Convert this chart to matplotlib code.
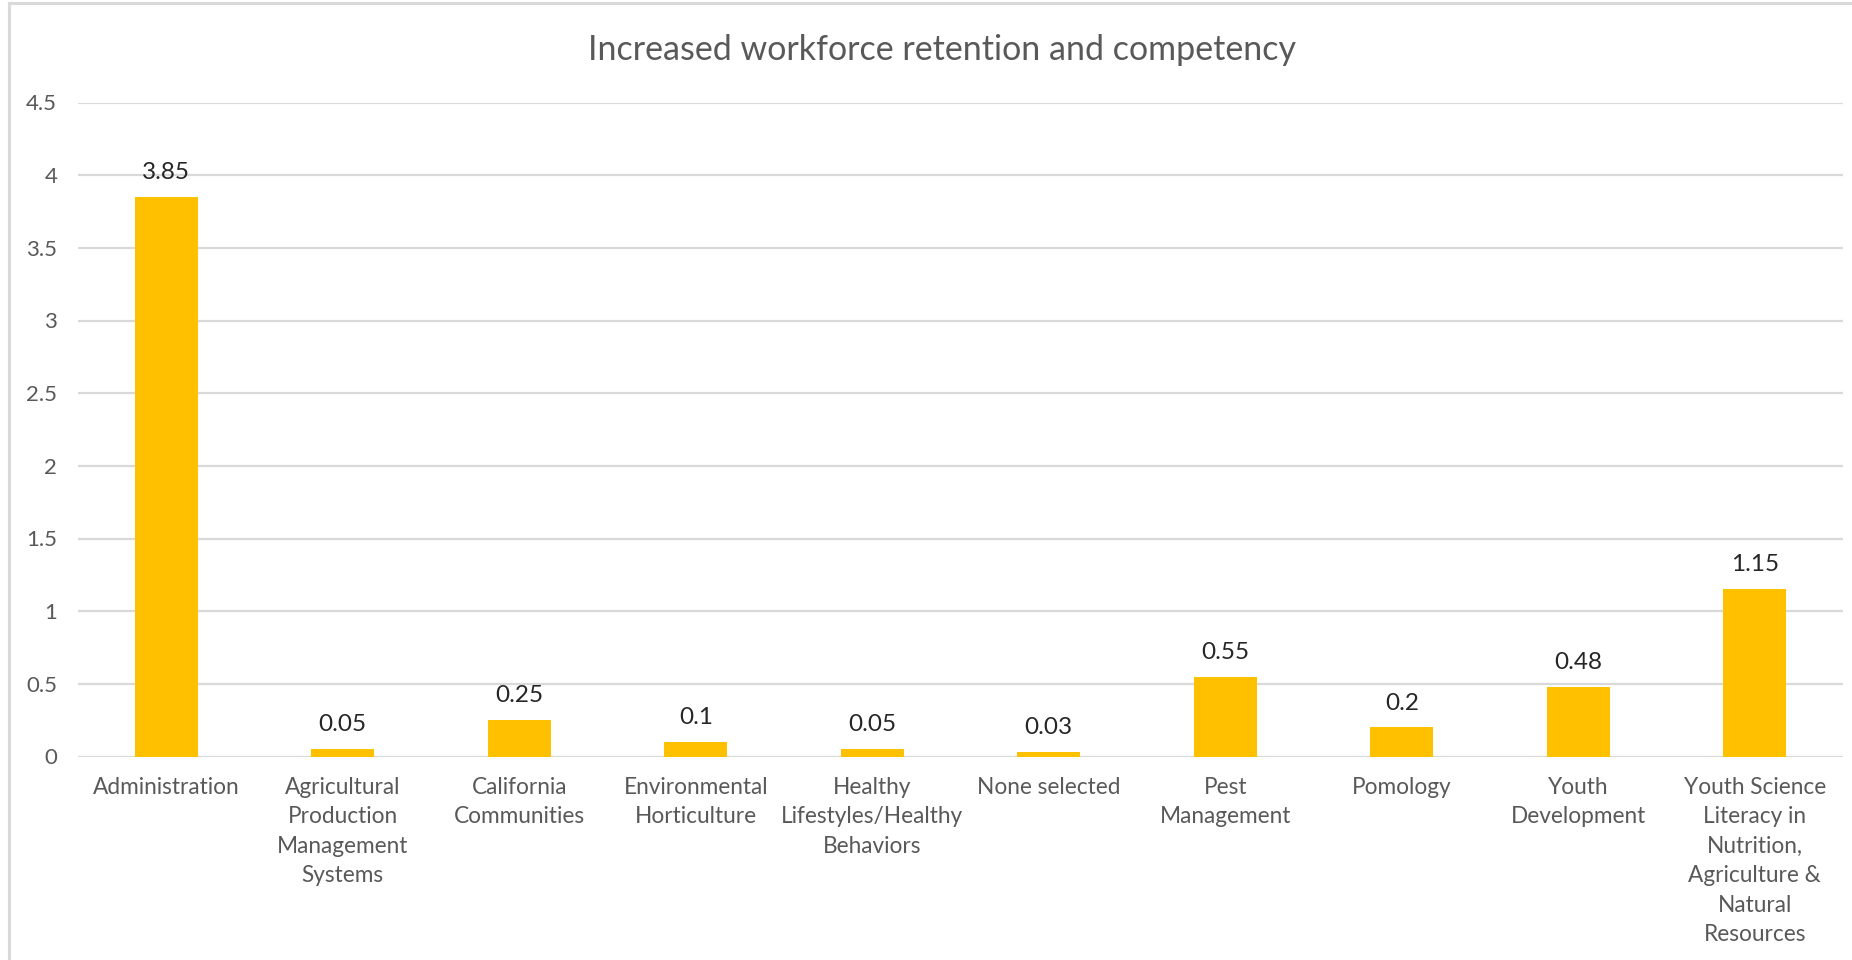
import matplotlib
matplotlib.use("Agg")
import matplotlib.pyplot as plt
from matplotlib.lines import Line2D
import numpy as np

plt.rcParams['font.family'] = ['Lato', 'DejaVu Sans']

categories = ["Administration",
              "Agricultural\nProduction\nManagement\nSystems",
              "California\nCommunities",
              "Environmental\nHorticulture",
              "Healthy\nLifestyles/Healthy\nBehaviors",
              "None selected",
              "Pest\nManagement",
              "Pomology",
              "Youth\nDevelopment",
              "Youth Science\nLiteracy in\nNutrition,\nAgriculture &\nNatural\nResources"]
values = [3.85, 0.05, 0.25, 0.1, 0.05, 0.03, 0.55, 0.2, 0.48, 1.15]
value_labels = ["3.85", "0.05", "0.25", "0.1", "0.05", "0.03", "0.55", "0.2", "0.48", "1.15"]
yticks = [0, 0.5, 1, 1.5, 2, 2.5, 3, 3.5, 4, 4.5]
ytick_labels = ["0", "0.5", "1", "1.5", "2", "2.5", "3", "3.5", "4", "4.5"]

fig = plt.figure(figsize=(18.52, 9.6), dpi=100)
ax = fig.add_axes([78/1852, 1 - 756.5/960, (1843-78)/1852, (756.5-102.5)/960])

x = np.arange(len(categories))
bars = ax.bar(x, values, width=0.355, color="#FFC000", zorder=3)

for b, lab in zip(bars, value_labels):
    ax.annotate(lab, (b.get_x() + b.get_width()/2, b.get_height()),
                xytext=(0, 10), textcoords="offset points",
                ha="center", va="bottom", fontsize=17.5, color="#262626")

ax.set_xlim(-0.5, len(categories) - 0.5)
ax.set_ylim(0, 4.5)
ax.set_yticks(yticks)
ax.set_yticklabels(ytick_labels)
ax.set_xticks(x)
ax.set_xticklabels(categories, linespacing=1.5)
ax.tick_params(axis="y", length=0, pad=15, labelsize=16, labelcolor="#595959")
ax.tick_params(axis="x", length=0, pad=14.5, labelsize=16.3, labelcolor="#595959")
ax.grid(axis="y", color="#d9d9d9", linewidth=1.6, zorder=0)
for s in ax.spines.values():
    s.set_visible(False)

fig.text(942/1852, 1 - 50/960, "Increased workforce retention and competency",
         ha="center", va="center", fontsize=24.5, color="#595959")

# outer chart border (left and top visible)
fig.add_artist(Line2D([8.5/1852, 8.5/1852], [0, 1 - 3/960], color="#d9d9d9", linewidth=2.2))
fig.add_artist(Line2D([8.5/1852, 1], [1 - 3/960, 1 - 3/960], color="#d9d9d9", linewidth=2.2))

fig.savefig("out.png", dpi=100)
